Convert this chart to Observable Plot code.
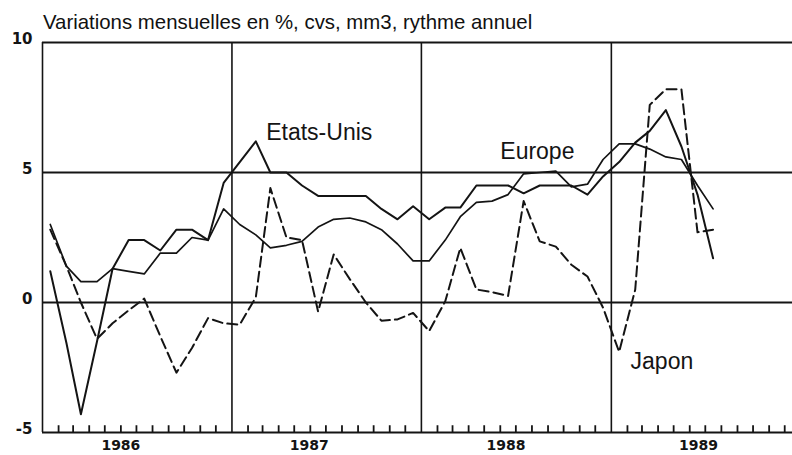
<!DOCTYPE html>
<html><head><meta charset="utf-8">
<script src="https://cdn.jsdelivr.net/npm/d3@7"></script>
<script src="https://cdn.jsdelivr.net/npm/@observablehq/plot@0.6"></script>
<style>
body{margin:0;background:#fff;overflow:hidden;position:relative;}
#title{position:absolute;top:0;left:0;z-index:1;height:36px;box-sizing:border-box;padding:12px 0 0 43px;font:20.4px "Liberation Sans",Arial,sans-serif;line-height:20px;color:#111;white-space:nowrap;}
</style></head><body>
<div id="title">Variations mensuelles en %, cvs, mm3, rythme annuel</div>
<div id="chart"></div>
<script>
const months = [
 "1986-01","1986-02","1986-03","1986-04","1986-05","1986-06","1986-07","1986-08","1986-09","1986-10","1986-11","1986-12",
 "1987-01","1987-02","1987-03","1987-04","1987-05","1987-06","1987-07","1987-08","1987-09","1987-10","1987-11","1987-12",
 "1988-01","1988-02","1988-03","1988-04","1988-05","1988-06","1988-07","1988-08","1988-09","1988-10","1988-11","1988-12",
 "1989-01","1989-02","1989-03","1989-04","1989-05","1989-06","1989-07"];
const etatsUnis = [1.2,-1.55,-4.3,-1.5,1.3,2.4,2.4,2.0,2.8,2.8,2.4,4.6,
 5.4,6.2,5.0,5.0,4.5,4.1,4.1,4.1,4.1,3.6,3.2,3.7,
 3.2,3.65,3.65,4.5,4.5,4.5,4.2,4.5,4.5,4.5,4.15,4.85,
 5.4,6.15,6.6,7.4,6.0,4.15,1.7];
const europe = [3.0,1.4,0.8,0.8,1.3,1.2,1.1,1.9,1.9,2.5,2.4,3.6,
 3.0,2.6,2.1,2.2,2.35,2.9,3.2,3.25,3.1,2.8,2.25,1.6,
 1.6,2.4,3.3,3.85,3.9,4.15,4.95,5.0,5.05,4.45,4.55,5.5,
 6.1,6.1,5.9,5.6,5.5,4.5,3.6];
const japon = [2.8,1.4,0.0,-1.4,-0.8,-0.3,0.15,-1.3,-2.7,-1.75,-0.6,-0.8,
 -0.85,0.2,4.4,2.5,2.4,-0.35,1.85,0.9,0.0,-0.7,-0.65,-0.4,
 -1.1,0.05,2.1,0.5,0.4,0.25,3.9,2.35,2.15,1.45,1.0,-0.2,
 -1.9,0.5,7.6,8.2,8.2,2.7,2.8];
const seriesNames = ["Etats-Unis","Europe","Japon"];
const yTicks = [10,5,0,-5];
const yearLabels = ["1986","1987","1988","1989"];
const yearLabelDates = ["1986-06-01","1987-05-30","1988-06-12","1989-06-18"];
const yearStarts = ["1986-01-01","1987-01-01","1988-01-01","1989-01-01"];

const utc = (s) => { const p = s.split("-").map(Number); return new Date(Date.UTC(p[0], p[1]-1, p[2] || 16)); };
const rows = months.map((m,i) => ({date: utc(m), us: etatsUnis[i], eu: europe[i], jp: japon[i]}));
const monthTicks = d3.utcMonth.range(new Date(Date.UTC(1986,1,1)), new Date(Date.UTC(1990,0,1)))
  .filter(t => t.getUTCMonth() !== 0);
const seriesLabels = [
  {name: seriesNames[0], date: utc("1987-03-08"), value: 6.55},
  {name: seriesNames[1], date: utc("1988-06-01"), value: 5.8},
  {name: seriesNames[2], date: utc("1989-02-07"), value: -2.27}
];
const ink = "#141414";

const plot = Plot.plot({
  width: 792, height: 455,
  marginTop: 42, marginBottom: 23, marginLeft: 42, marginRight: 0,
  x: {type: "utc", domain: [new Date(Date.UTC(1986,0,1)), new Date(Date.UTC(1989,11,16))], axis: null},
  y: {domain: [-5, 10], axis: null},
  style: {background: "#fff", color: ink},
  marks: [
    Plot.ruleY(yTicks, {stroke: ink, strokeWidth: 1.8}),
    Plot.ruleX(yearStarts.map(utc), {y1: -5, y2: 10, stroke: ink, strokeWidth: 1.6}),
    Plot.ruleX(monthTicks, {y1: -5, y2: -4.74, stroke: ink, strokeWidth: 1.8}),
    Plot.text(yTicks, {ariaLabel: "ytick", x: new Date(Date.UTC(1986,0,1)), y: d => d, text: d => String(d), dx: -10, dy: -3,
      textAnchor: "end", fontFamily: "DejaVu Sans", fontWeight: "bold", fontSize: 15, fill: ink}),
    Plot.text(yearLabels, {ariaLabel: "year", x: (d,i) => utc(yearLabelDates[i]), y: -5, text: d => d, dy: 13,
      fontFamily: "DejaVu Sans", fontWeight: "bold", fontSize: 14, fill: ink}),
    Plot.line(rows, {x: "date", y: "eu", stroke: ink, strokeWidth: 1.7, curve: "linear"}),
    Plot.line(rows, {x: "date", y: "us", stroke: ink, strokeWidth: 2, curve: "linear"}),
    Plot.line(rows, {x: "date", y: "jp", stroke: ink, strokeWidth: 2, strokeDasharray: "10,5", curve: "linear"}),
    Plot.text(seriesLabels, {x: "date", y: "value", text: "name", textAnchor: "start",
      fontFamily: "Liberation Sans", fontSize: 23, fill: ink})
  ]
});
d3.select(plot).selectAll('g[aria-label="ytick"] text').attr("letter-spacing", "2px");
d3.select(plot).selectAll('g[aria-label="year"] text').attr("letter-spacing", "2.5px");
document.getElementById("chart").appendChild(plot);
</script>
</body></html>
